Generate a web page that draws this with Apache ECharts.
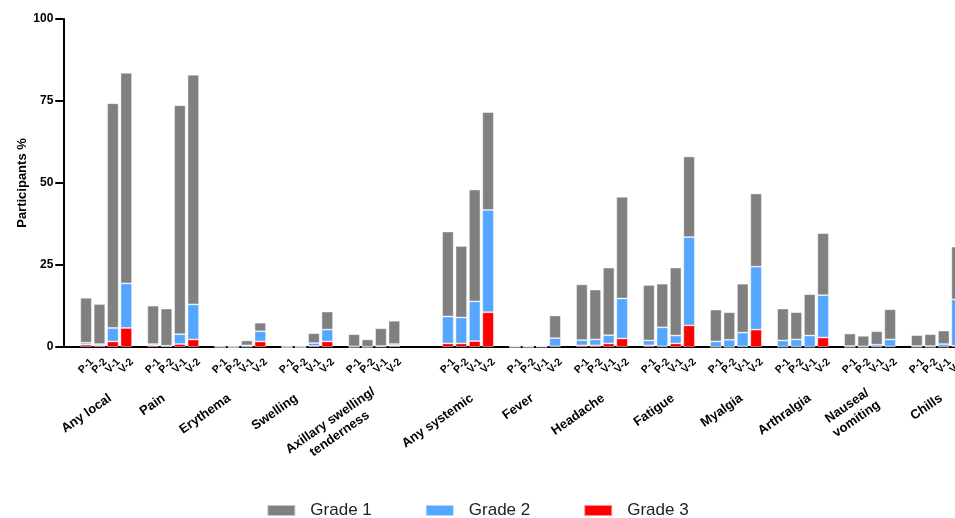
<!DOCTYPE html>
<html>
<head>
<meta charset="utf-8">
<script src="https://cdn.jsdelivr.net/npm/echarts@6/dist/echarts.min.js"></script>
<style>
  html, body { margin: 0; padding: 0; background: #fff; }
  #chart { width: 955px; height: 518px; }
</style>
</head>
<body>
<div id="chart"></div>
<script>
// ---- Data ----
const groups = ['Any local', 'Pain', 'Erythema', 'Swelling', 'Axillary swelling/\ntenderness',
                'Any systemic', 'Fever', 'Headache', 'Fatigue', 'Myalgia', 'Arthralgia', 'Nausea/\nvomiting', 'Chills'];
const doses = ['P-1', 'P-2', 'V-1', 'V-2'];
const yTicks = [0, 25, 50, 75, 100];
const seriesNames = ['Grade 1', 'Grade 2', 'Grade 3'];

// values per group: [P-1, P-2, V-1, V-2]
const grade1 = [
  [13.7, 12.2, 68.5, 64.2],
  [11.7, 11.3, 69.8, 70.0],
  [0.3, 0.1, 1.5, 2.6],
  [0.1, 0.1, 3.0, 5.5],
  [3.7, 2.2, 5.4, 7.1],
  [25.9, 21.8, 34.1, 29.8],
  [0.1, 0.1, 0.1, 6.9],
  [17.0, 15.2, 20.6, 31.0],
  [16.9, 13.3, 20.7, 24.6],
  [9.7, 8.4, 14.9, 22.3],
  [9.7, 8.3, 12.6, 18.9],
  [3.8, 3.2, 4.1, 9.2],
  [3.3, 3.6, 4.1, 16.1]
];
const grade2 = [
  [0.6, 0.4, 4.1, 13.6],
  [0.4, 0.1, 3.0, 10.7],
  [0.1, 0.0, 0.4, 3.1],
  [0.0, 0.0, 0.9, 3.6],
  [0.2, 0.1, 0.2, 0.5],
  [8.2, 7.9, 12.1, 31.2],
  [0.1, 0.1, 0.0, 2.5],
  [1.6, 1.8, 2.5, 12.2],
  [1.5, 5.8, 2.4, 26.9],
  [1.7, 2.2, 4.2, 19.2],
  [1.9, 2.2, 3.4, 12.9],
  [0.3, 0.2, 0.6, 2.1],
  [0.3, 0.3, 0.8, 14.1]
];
const grade3 = [
  [0.7, 0.5, 1.7, 5.8],
  [0.5, 0.3, 0.9, 2.3],
  [0.0, 0.0, 0.1, 1.7],
  [0.0, 0.0, 0.3, 1.7],
  [0.0, 0.0, 0.1, 0.4],
  [1.1, 1.1, 1.8, 10.6],
  [0.0, 0.0, 0.1, 0.2],
  [0.5, 0.5, 1.1, 2.6],
  [0.5, 0.2, 1.1, 6.6],
  [0.0, 0.0, 0.2, 5.3],
  [0.1, 0.1, 0.1, 2.9],
  [0.0, 0.0, 0.1, 0.2],
  [0.0, 0.0, 0.1, 0.4]
];

// ---- Layout (kept apart from the data) ----
// 4 bars + 1 empty slot per group, a wider gap before the systemic groups
const localCount = 5;
const xMin = -1.7, xMax = 68;
function groupStart(g) { return g < localCount ? g * 5 : 27 + (g - localCount) * 5; }
// small horizontal nudges (in slot units) of the group captions
const captionNudge = [0.3, -0.7, -0.8, -0.8, 0.3, 0.3, -0.2, 0.1, 0.3, 0.4, 0.5, 0.3, 0.3];

// empty guard labels at both ends so that no real label is dropped by min/max overlap handling
const slotValues = [xMin + 0.2], slotLabels = [''];
const captionValues = [], captionLabels = [];
groups.forEach((name, g) => {
  doses.forEach((d, j) => { slotValues.push(groupStart(g) + j); slotLabels.push(d); });
  captionValues.push(groupStart(g) + 1.5 + captionNudge[g]);
  captionLabels.push(name);
});
slotValues.push(xMax - 0.5); slotLabels.push('');

function slotLabelFor(v) {
  let out = '';
  slotValues.forEach((s, k) => { if (Math.abs(s - v) < 1e-6) out = slotLabels[k]; });
  return out;
}

// rows of [value, slot] so that the stacked dimension is the value
function build(arr) {
  const out = [];
  arr.forEach((row, g) => row.forEach((v, j) => out.push([v, groupStart(g) + j])));
  return out;
}

const font = 'Liberation Sans, Arial, Helvetica, sans-serif';
const colors = { 'Grade 1': '#808080', 'Grade 2': '#55A6FF', 'Grade 3': '#FF0000' };

function barSeries(name, arr) {
  return {
    type: 'bar', name: name, stack: 'total', barWidth: 11.5, xAxisIndex: 0,
    encode: { x: 1, y: 0 },
    data: build(arr),
    itemStyle: { color: colors[name], borderColor: 'rgba(255,255,255,0.55)', borderWidth: 0.8 }
  };
}

const chart = echarts.init(document.getElementById('chart'));
chart.setOption({
  animation: false,
  textStyle: { fontFamily: font },
  grid: { left: 63.3, top: 19, bottom: 171, right: -42.3, outerBoundsMode: 'none', containLabel: false },
  legend: {
    data: seriesNames, top: 497, left: 'center', icon: 'rect',
    itemWidth: 28, itemHeight: 11, itemGap: 53,
    textStyle: { fontSize: 17, color: '#222', fontFamily: font, padding: [0, 0, 0, 10] }
  },
  xAxis: [
    {
      type: 'value', min: xMin, max: xMax, position: 'bottom',
      axisLine: { show: true, onZero: false, lineStyle: { color: '#000', width: 2 } },
      axisTick: { show: false }, splitLine: { show: false },
      axisLabel: {
        customValues: slotValues, rotate: 45, margin: 19, align: 'center', verticalAlign: 'middle',
        showMinLabel: true, showMaxLabel: true, hideOverlap: false,
        fontSize: 10.5, fontWeight: 'bold', color: '#000', fontFamily: font,
        formatter: (v) => slotLabelFor(v)
      }
    },
    {
      type: 'value', min: xMin, max: xMax, position: 'bottom',
      axisLine: { show: false, onZero: false }, axisTick: { show: false }, splitLine: { show: false },
      axisLabel: {
        customValues: captionValues, rotate: 35, margin: 50,
        showMinLabel: true, showMaxLabel: true, hideOverlap: false,
        fontSize: 13, fontWeight: 'bold', color: '#000', fontFamily: font,
        formatter: (v) => {
          let i = -1;
          captionValues.forEach((c, k) => { if (Math.abs(c - v) < 1e-6) i = k; });
          if (i < 0) return '';
          return captionLabels[i].split('\n').map(l => '{c|' + l + '}').join('\n');
        },
        rich: { c: { align: 'center', fontSize: 13, fontWeight: 'bold', color: '#000', fontFamily: font, lineHeight: 16 } }
      }
    }
  ],
  yAxis: {
    type: 'value', min: yTicks[0], max: yTicks[yTicks.length - 1], interval: 25,
    name: 'Participants %', nameLocation: 'middle', nameGap: 34, nameMoveOverlap: false,
    nameTextStyle: { fontSize: 13, fontWeight: 'bold', color: '#000', fontFamily: font },
    axisLine: { show: true, onZero: false, lineStyle: { color: '#000', width: 2 } },
    axisTick: { show: true, length: 8, lineStyle: { color: '#000', width: 2 } },
    splitLine: { show: false },
    axisLabel: { fontSize: 12, fontWeight: 'bold', color: '#000', margin: 10, fontFamily: font, showMinLabel: true }
  },
  series: [
    barSeries('Grade 3', grade3),
    barSeries('Grade 2', grade2),
    barSeries('Grade 1', grade1)
  ]
});
</script>
</body>
</html>
